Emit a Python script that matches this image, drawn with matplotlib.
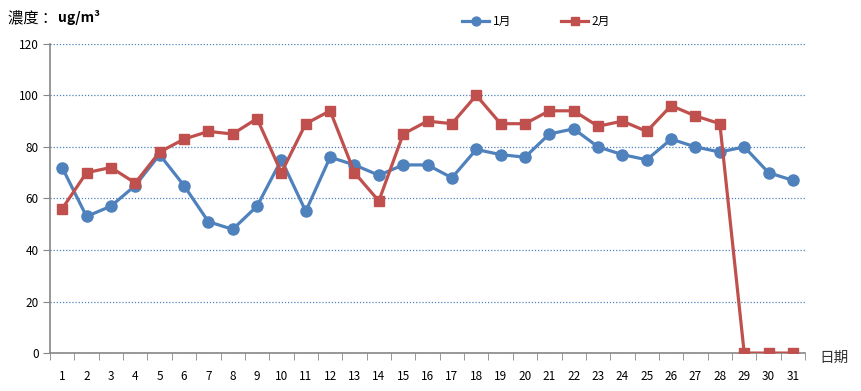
import matplotlib
matplotlib.use('Agg')
import matplotlib.pyplot as plt
import numpy as np

plt.rcParams['font.family'] = ['Noto Sans CJK SC', 'DejaVu Sans']

# 数据
days = list(range(1, 32))
jan = [72, 53, 57, 65, 77, 65, 51, 48, 57, 75, 55, 76, 73, 69, 73, 73, 68, 79, 77, 76,
       85, 87, 80, 77, 75, 83, 80, 78, 80, 70, 67]
feb = [56, 70, 72, 66, 78, 83, 86, 85, 91, 70, 89, 94, 70, 59, 85, 90, 89, 100, 89, 89,
       94, 94, 88, 90, 86, 96, 92, 89, 0, 0, 0]
yticks = [0, 20, 40, 60, 80, 100, 120]

blue = '#4F81BD'
red = '#C0504D'
grey = '#868686'

fig = plt.figure(figsize=(8.62, 3.91), dpi=100)
ax = fig.add_axes([0.058, 0.097, 0.876, 0.791])

ax.plot(days, jan, color=blue, lw=2.3, marker='o', ms=8, label='1月', zorder=3)
ax.plot(days, feb, color=red, lw=2.3, marker='s', ms=7, label='2月', zorder=3)

ax.set_xlim(0.5, 31.5)
ax.set_ylim(0, 120)
ax.set_yticks(yticks)
ax.set_xticks(days)
ax.set_xticks(np.arange(0.5, 32, 1), minor=True)
ax.tick_params(axis='x', which='major', length=0, pad=12, labelsize=8.5)
ax.tick_params(axis='x', which='minor', length=5, color=grey, direction='out')
ax.tick_params(axis='y', length=5, color=grey, direction='out', labelsize=8.5, pad=3)

ax.yaxis.grid(True, color=blue, linestyle=(0, (1, 1.5)), lw=0.9)
ax.set_axisbelow(True)
for s in ['top', 'right']:
    ax.spines[s].set_visible(False)
for s in ['left', 'bottom']:
    ax.spines[s].set_color(grey)
    ax.spines[s].set_linewidth(1.2)

fig.text(0.009, 0.955, '濃度 ：', fontsize=11, va='center', ha='left')
fig.text(0.067, 0.955, 'ug/m³', fontsize=10, va='center', ha='left', weight='bold')
fig.text(0.951, 0.085, '日期', fontsize=10.5, va='center', ha='left', color='#333333')

fig.legend(loc='center', bbox_to_anchor=(0.622, 0.944), ncol=2, frameon=False,
           fontsize=8.5, handlelength=2.3, columnspacing=4.2, handletextpad=0.3,
           markerscale=0.8)

fig.savefig('out.png', dpi=100)
